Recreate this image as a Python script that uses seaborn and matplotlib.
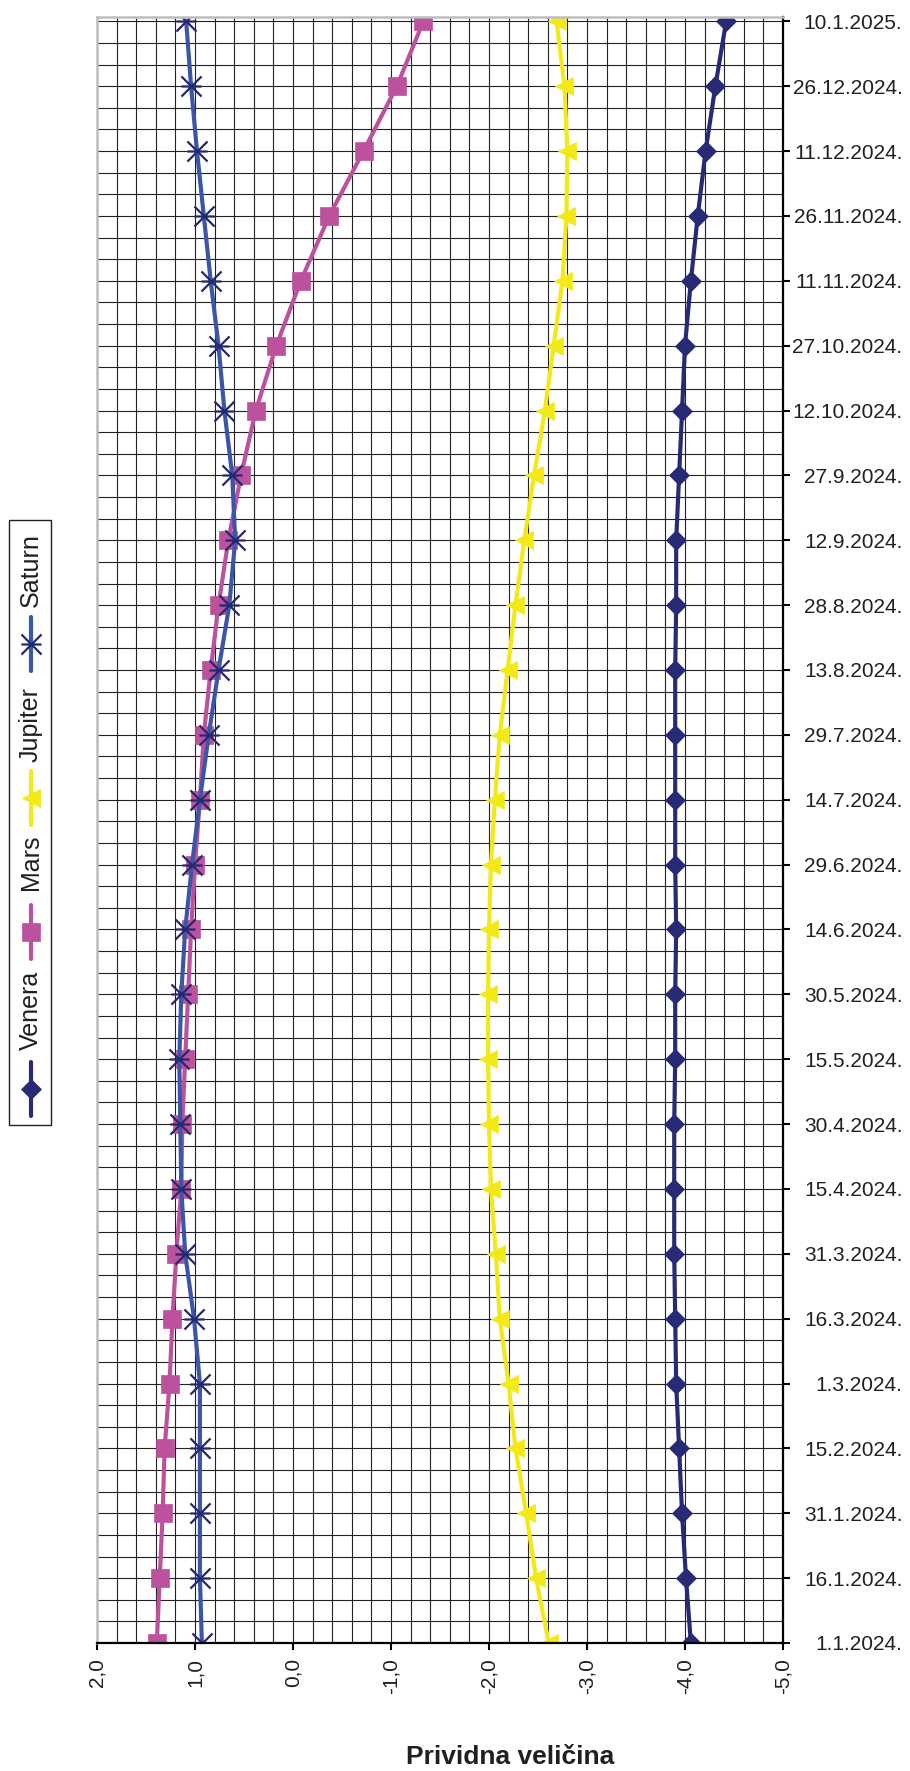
# Prividna veličina planeta 2024. - dijagram
import pandas as pd
import numpy as np
import matplotlib
matplotlib.use('Agg')
import matplotlib.pyplot as plt
from matplotlib.path import Path
from matplotlib.lines import Line2D
from matplotlib.patches import Rectangle
import seaborn as sns

sns.set_theme(style="white")
plt.rcParams['font.family'] = ['Liberation Sans', 'DejaVu Sans']

# Podaci (očitani s dijagrama)
datumi = ['1.1.2024.', '16.1.2024.', '31.1.2024.', '15.2.2024.', '1.3.2024.', '16.3.2024.',
          '31.3.2024.', '15.4.2024.', '30.4.2024.', '15.5.2024.', '30.5.2024.', '14.6.2024.',
          '29.6.2024.', '14.7.2024.', '29.7.2024.', '13.8.2024.', '28.8.2024.', '12.9.2024.',
          '27.9.2024.', '12.10.2024.', '27.10.2024.', '11.11.2024.', '26.11.2024.',
          '11.12.2024.', '26.12.2024.', '10.1.2025.']

venera = [-4.06, -4.01, -3.97, -3.94, -3.91, -3.90, -3.89, -3.89, -3.89, -3.90, -3.90, -3.91, -3.90,
          -3.90, -3.90, -3.90, -3.91, -3.91, -3.94, -3.97, -4.00, -4.06, -4.13, -4.21, -4.31, -4.42]
mars = [1.39, 1.36, 1.33, 1.31, 1.26, 1.23, 1.19, 1.14, 1.13, 1.10, 1.07, 1.04, 1.00,
        0.95, 0.91, 0.84, 0.76, 0.66, 0.53, 0.38, 0.17, -0.08, -0.37, -0.72, -1.06, -1.33]
jupiter = [-2.61, -2.48, -2.38, -2.27, -2.20, -2.11, -2.07, -2.02, -2.00, -1.99, -1.99, -2.00, -2.02,
           -2.06, -2.11, -2.19, -2.27, -2.36, -2.46, -2.57, -2.66, -2.75, -2.79, -2.80, -2.77, -2.69]
saturn = [0.93, 0.95, 0.95, 0.95, 0.95, 1.01, 1.10, 1.14, 1.15, 1.16, 1.14, 1.10, 1.03,
          0.95, 0.86, 0.76, 0.65, 0.59, 0.62, 0.70, 0.76, 0.84, 0.91, 0.98, 1.04, 1.09]

planeti = ['Venera', 'Mars', 'Jupiter', 'Saturn']
x_oznake = ['2,0', '1,0', '0,0', '-1,0', '-2,0', '-3,0', '-4,0', '-5,0']

df = pd.DataFrame({'datum': pd.to_datetime(datumi, format='%d.%m.%Y.'),
                   'Venera': venera, 'Mars': mars, 'Jupiter': jupiter, 'Saturn': saturn})
df_long = df.melt(id_vars='datum', var_name='planet', value_name='magnituda')

# Zvjezdica (X s vodoravnom crtom)
zvijezda = Path([(-1, -1), (1, 1), (-1, 1), (1, -1), (-1, 0), (1, 0)],
                [Path.MOVETO, Path.LINETO, Path.MOVETO, Path.LINETO, Path.MOVETO, Path.LINETO])

stilovi = {
    'Venera': dict(color='#272A74', marker='D', markersize=10, markerfacecolor='#272A74',
                   markeredgecolor='#272A74', markeredgewidth=0.5),
    'Mars': dict(color='#BC529D', marker='s', markersize=13.5, markerfacecolor='#BC529D',
                 markeredgecolor='#BC529D', markeredgewidth=0.5),
    'Jupiter': dict(color='#F2E916', marker='<', markersize=13.5, markerfacecolor='#F2E916',
                    markeredgecolor='#F2E916', markeredgewidth=0.5),
    'Saturn': dict(color='#3B56A6', marker=zvijezda, markersize=14.5, markerfacecolor='none',
                   markeredgecolor='#25276F', markeredgewidth=1.6),
}

fig = plt.figure(figsize=(9.1, 17.71), dpi=100)
W, H = 910, 1771
ax = fig.add_axes([97 / W, 1 - 1643 / H, (783 - 97) / W, (1643 - 17) / H])

for p in planeti:
    sns.lineplot(data=df_long[df_long['planet'] == p], x='magnituda', y='datum', orient='y',
                 sort=False, estimator=None, linewidth=3, legend=False, ax=ax, **stilovi[p])

# Osi
ax.set_xlim(2, -5)
ax.set_xticks(np.arange(2, -5.01, -1))
ax.set_xticklabels(x_oznake, rotation=90, fontsize=15, color='#231F20')
ax.set_xticks(np.arange(-5, 2.01, 0.2), minor=True)

d0 = df['datum'].iloc[0]
d1 = df['datum'].iloc[-1]
ax.set_ylim(d0, d1 + pd.Timedelta(days=1))
ax.set_yticks(df['datum'])
ax.set_yticklabels(datumi, fontsize=15, color='#231F20')
ax.set_yticks(pd.date_range(d0, d1, freq='5D'), minor=True)
ax.yaxis.tick_right()
for t in ax.get_yticklabels():
    t.set_horizontalalignment('right')

ax.tick_params(axis='x', which='major', bottom=True, direction='out', length=5, width=1.5,
               color='black', pad=6)
ax.tick_params(axis='y', which='major', right=True, left=False, direction='out', length=5,
               width=1.5, color='black', pad=81)
ax.tick_params(which='minor', length=0)
ax.set_xlabel('')
ax.set_ylabel('')

ax.grid(which='both', color='#222222', linewidth=0.8)
ax.set_axisbelow(True)

for s in ['left', 'top']:
    ax.spines[s].set_color('#bdbdbd')
    ax.spines[s].set_linewidth(1.8)
for s in ['right', 'bottom']:
    ax.spines[s].set_color('black')
    ax.spines[s].set_linewidth(1.6)

fig.text(510 / W, 1 - 1757 / H, 'Prividna veličina', ha='center', va='center',
         fontsize=19, fontweight='bold', color='#231F20')

# Legenda (zakrenuta)
def fy(y):
    return 1 - y / H

fig.add_artist(Rectangle((9 / W, fy(1125)), 42 / W, (1125 - 520) / H, transform=fig.transFigure,
                         facecolor='white', edgecolor='#231F20', linewidth=1.0))
leg_tekst = {'Saturn': 570, 'Jupiter': 725, 'Mars': 862, 'Venera': 1010}
leg_marker = {'Saturn': 644, 'Jupiter': 798, 'Mars': 932, 'Venera': 1089}
xl = 31 / W
for p in planeti:
    st = stilovi[p]
    ym = leg_marker[p]
    fig.add_artist(Line2D([xl, xl], [fy(ym - 27), fy(ym + 27)], transform=fig.transFigure,
                          color=st['color'], linewidth=3, solid_capstyle='round'))
    fig.add_artist(Line2D([xl], [fy(ym)], transform=fig.transFigure, linestyle='none',
                          marker=st['marker'], markersize=st['markersize'],
                          markerfacecolor=st['markerfacecolor'],
                          markeredgecolor=st['markeredgecolor'],
                          markeredgewidth=st['markeredgewidth']))
    fig.text(xl, fy(leg_tekst[p]), p, rotation=90, ha='center', va='center',
             fontsize=18, color='#231F20')

fig.savefig('out.png', dpi=100)
